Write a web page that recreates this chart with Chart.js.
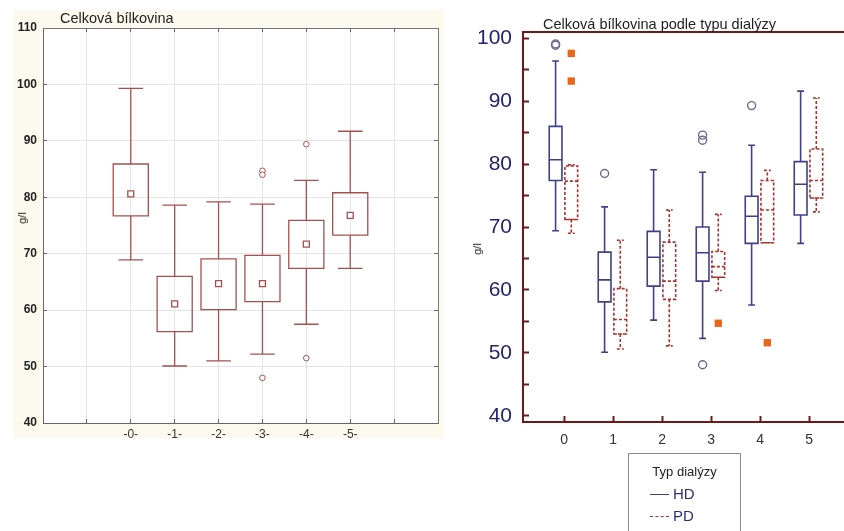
<!DOCTYPE html>
<html>
<head>
<meta charset="utf-8">
<script src="https://cdn.jsdelivr.net/npm/chart.js@4.4.1/dist/chart.umd.min.js"></script>
<style>
  body { margin: 0; width: 844px; height: 531px; background: #fff; position: relative; overflow: hidden; font-family: "Liberation Sans", Arial, sans-serif; }
  #leftWrap { position: absolute; left: 13px; top: 10px; width: 431px; height: 428px; background: #fcfaee; }
  #cLeft { position: absolute; left: 13px; top: 10px; }
  #cRight { position: absolute; left: 430px; top: 0; }
  .txt { position: absolute; white-space: nowrap; color: #222; }
  .rot { transform: translate(-50%, -50%) rotate(-90deg); font-size: 11px; }
  #legend { position: absolute; left: 628px; top: 453px; width: 113px; height: 100px; border: 1px solid #8a8a8a; box-sizing: border-box; }
  #legend .sw { position: absolute; left: 21px; width: 19px; height: 0; }
  #legend .lb { position: absolute; left: 44px; font-size: 15px; color: #2b2b7b; }
</style>
</head>
<body>
<div id="leftWrap"></div>
<canvas id="cLeft" width="431" height="428"></canvas>
<canvas id="cRight" width="414" height="455"></canvas>

<div class="txt" style="left:60px;top:10px;font-size:14.5px;">Celková bílkovina</div>
<div class="txt rot" style="left:22px;top:218px;">g/l</div>
<div class="txt" style="left:543px;top:16px;font-size:14.5px;">Celková bílkovina podle typu dialýzy</div>
<div class="txt rot" style="left:477px;top:249px;">g/l</div>

<div id="legend">
  <div class="txt" style="left:0;width:111px;text-align:center;top:10px;font-size:13px;">Typ dialýzy</div>
  <div class="sw" style="top:40px;border-top:1.5px solid #40408a;"></div>
  <div class="lb" style="top:31px;">HD</div>
  <div class="sw" style="top:62px;border-top:1.5px dashed #a8322d;"></div>
  <div class="lb" style="top:53px;">PD</div>
</div>

<script>
// ---- left chart: Celková bílkovina (mean, box, whiskers)
const leftCats = [0, 1, 2, 3, 4, 5];
const leftXLabels = ['-0-', '-1-', '-2-', '-3-', '-4-', '-5-'];
const leftXGrid = [-2, -1, 0, 1, 2, 3, 4, 5, 6, 7];
const leftYTicks = [40, 50, 60, 70, 80, 90, 100, 110];
const leftMean = [80.6, 61.1, 64.7, 64.7, 71.7, 76.8];
const leftBoxLow = [76.7, 56.2, 60.1, 61.5, 67.4, 73.3];
const leftBoxHigh = [85.9, 66.0, 69.1, 69.7, 75.9, 80.8];
const leftWhiskLow = [68.9, 50.1, 51.0, 52.2, 57.5, 67.4];
const leftWhiskHigh = [99.3, 78.6, 79.2, 78.8, 83.0, 91.7];
const leftOutCat = [3, 3, 3, 4, 4];
const leftOutVal = [84.7, 84.0, 48.0, 89.4, 51.5];

// ---- right chart: by dialysis type
const rightCats = [0, 1, 2, 3, 4, 5];
const rightXTicks = [0, 1, 2, 3, 4, 5];
const rightYTicks = [40, 45, 50, 55, 60, 65, 70, 75, 80, 85, 90, 95, 100];
const hdWhiskLow = [69.4, 50.1, 55.2, 52.3, 57.6, 67.4];
const hdQ1 = [77.4, 58.1, 60.6, 61.4, 67.4, 71.9];
const hdMedian = [80.7, 61.6, 65.2, 65.9, 71.7, 76.8];
const hdQ3 = [86.0, 66.0, 69.3, 70.0, 74.9, 80.4];
const hdWhiskHigh = [96.4, 73.2, 79.1, 78.7, 83.0, 91.6];
const hdOutCat = [0, 0, 1, 3, 3, 3, 4];
const hdOutVal = [98.9, 99.1, 78.5, 84.6, 83.8, 48.1, 89.3];
const pdWhiskLow = [69.0, 50.6, 51.1, 59.9, 67.5, 72.4];
const pdQ1 = [71.2, 53.0, 58.5, 62.0, 67.5, 74.6];
const pdMedian = [77.3, 55.3, 61.4, 63.7, 72.7, 77.4];
const pdQ3 = [79.7, 60.2, 67.6, 66.1, 77.4, 82.4];
const pdWhiskHigh = [79.9, 67.9, 72.7, 72.0, 79.0, 90.5];
const pdOutCat = [0, 0, 3, 4];
const pdOutVal = [97.6, 93.2, 54.7, 51.6];

// builds one polyline (gaps = null) with boxes, medians, whiskers and caps
function boxLines(cats, off, half, cap, lo, hi, mid, wLo, wHi) {
  const pts = [];
  const gap = c => pts.push({ x: c, y: null });
  cats.forEach((cat, i) => {
    const c = cat + off;
    pts.push({ x: c - half, y: lo[i] }, { x: c + half, y: lo[i] }, { x: c + half, y: hi[i] },
             { x: c - half, y: hi[i] }, { x: c - half, y: lo[i] }, { x: c + half, y: lo[i] });
    gap(c);
    if (mid) { pts.push({ x: c - half, y: mid[i] }, { x: c + half, y: mid[i] }); gap(c); }
    pts.push({ x: c, y: hi[i] }, { x: c, y: wHi[i] }); gap(c);
    pts.push({ x: c - cap, y: wHi[i] }, { x: c + cap, y: wHi[i] }); gap(c);
    pts.push({ x: c, y: lo[i] }, { x: c, y: wLo[i] }); gap(c);
    pts.push({ x: c - cap, y: wLo[i] }, { x: c + cap, y: wLo[i] }); gap(c);
  });
  return pts;
}

const pointsAt = (cats, vals, off) => vals.map((v, i) => ({ x: cats[i] + off, y: v }));
const setTicks = arr => s => { s.ticks = arr.map(v => ({ value: v })); };
// exact box sizes, and no extra label padding from the scales
const fixW = n => s => { s.width = n; s.paddingTop = 0; s.paddingBottom = 0; };
const fixH = n => s => { s.height = n; s.paddingLeft = 0; s.paddingRight = 0; };

Chart.defaults.font.family = '"Liberation Sans", Arial, sans-serif';

const leftColor = '#a5504c';
const leftPlotBg = {
  id: 'plotBg',
  beforeDraw(chart) {
    const { ctx, chartArea: a } = chart;
    ctx.save();
    ctx.fillStyle = '#fff';
    ctx.fillRect(a.left, a.top, a.right - a.left, a.bottom - a.top);
    ctx.restore();
  }
};

new Chart(document.getElementById('cLeft'), {
  type: 'scatter',
  data: {
    datasets: [
      {
        data: leftCats.map((c, i) => ({ x: c, y: leftMean[i] })),
        pointStyle: 'rect', pointRadius: 4.2, backgroundColor: '#fff',
        borderColor: leftColor, borderWidth: 1.3
      },
      {
        data: pointsAt(leftOutCat, leftOutVal, 0),
        pointStyle: 'circle', pointRadius: 2.8, backgroundColor: '#fff',
        borderColor: leftColor, borderWidth: 1
      },
      {
        data: boxLines(leftCats, 0, 0.4, 0.28, leftBoxLow, leftBoxHigh, null, leftWhiskLow, leftWhiskHigh),
        showLine: true, spanGaps: false, pointRadius: 0, borderColor: leftColor,
        borderWidth: 1.3, borderJoinStyle: 'miter'
      }
    ]
  },
  options: {
    responsive: false,
    animation: false,
    events: [],
    layout: { padding: 0, autoPadding: false },
    plugins: { legend: { display: false }, tooltip: { enabled: false } },
    scales: {
      x: {
        type: 'linear', position: 'bottom', min: -2, max: 7,
        afterBuildTicks: setTicks(leftXGrid), afterFit: fixH(15),
        grid: { color: '#e4e4e4', tickColor: '#666', tickLength: -4 },
        border: { color: '#666' },
        ticks: { padding: 8, color: '#333', font: { size: 12 }, autoSkip: false, maxRotation: 0,
                 callback: v => leftXLabels[leftCats.indexOf(v)] || '' }
      },
      x2: {
        type: 'linear', position: 'top', min: -2, max: 7,
        afterBuildTicks: setTicks(leftXGrid), afterFit: fixH(18),
        grid: { drawOnChartArea: false, tickColor: '#666', tickLength: -4 },
        border: { color: '#777' },
        ticks: { display: false }
      },
      y: {
        type: 'linear', position: 'left', min: 40, max: 110,
        afterBuildTicks: setTicks(leftYTicks), afterFit: fixW(30),
        grid: { color: '#e4e4e4', tickColor: '#666', tickLength: -4 },
        border: { color: '#666' },
        ticks: { padding: 10, color: '#222', font: { size: 12, weight: 'bold' } }
      },
      y2: {
        type: 'linear', position: 'right', min: 40, max: 110,
        afterBuildTicks: setTicks(leftYTicks), afterFit: fixW(6),
        grid: { drawOnChartArea: false, tickColor: '#666', tickLength: -4 },
        border: { color: '#777' },
        ticks: { display: false }
      }
    }
  },
  plugins: [leftPlotBg]
});

const hdColor = '#40408a';
const pdColor = '#a8322d';
const axisRed = '#6e1818';

new Chart(document.getElementById('cRight'), {
  type: 'scatter',
  data: {
    datasets: [
      {
        data: pointsAt(hdOutCat, hdOutVal, -0.175),
        pointStyle: 'circle', pointRadius: 4, backgroundColor: 'rgba(255,255,255,0)',
        borderColor: '#6a6a8c', borderWidth: 1.4
      },
      {
        data: pointsAt(pdOutCat, pdOutVal, 0.145),
        pointStyle: 'rect', pointRadius: 5.2, backgroundColor: '#e8661c',
        borderColor: '#e8661c', borderWidth: 0
      },
      {
        data: boxLines(rightCats, -0.175, 0.13, 0.07, hdQ1, hdQ3, hdMedian, hdWhiskLow, hdWhiskHigh),
        showLine: true, spanGaps: false, pointRadius: 0, borderColor: hdColor,
        borderWidth: 1.6, borderJoinStyle: 'miter'
      },
      {
        data: boxLines(rightCats, 0.145, 0.13, 0.07, pdQ1, pdQ3, pdMedian, pdWhiskLow, pdWhiskHigh),
        showLine: true, spanGaps: false, pointRadius: 0, borderColor: pdColor,
        borderWidth: 1.6, borderDash: [3, 2], borderJoinStyle: 'miter'
      }
    ]
  },
  options: {
    responsive: false,
    animation: false,
    events: [],
    layout: { padding: { top: 32, left: 0, right: 0, bottom: 0 }, autoPadding: false },
    plugins: { legend: { display: false }, tooltip: { enabled: false } },
    scales: {
      x: {
        type: 'linear', position: 'bottom', min: -0.84, max: 5.71,
        afterBuildTicks: setTicks(rightXTicks), afterFit: fixH(33),
        grid: { drawOnChartArea: false, tickColor: axisRed, tickWidth: 2, tickLength: -6 },
        border: { color: axisRed, width: 2 },
        ticks: { padding: 16, color: '#333', font: { size: 14 }, autoSkip: false, maxRotation: 0 }
      },
      x2: {
        type: 'linear', position: 'top', min: -0.84, max: 5.71,
        afterFit: fixH(0),
        grid: { display: false },
        border: { color: axisRed, width: 2 },
        ticks: { display: false }
      },
      y: {
        type: 'linear', position: 'left', min: 39, max: 101,
        afterBuildTicks: setTicks(rightYTicks), afterFit: fixW(93),
        grid: { drawOnChartArea: false, tickColor: axisRed, tickWidth: 2, tickLength: -6 },
        border: { color: axisRed, width: 2 },
        ticks: { padding: 17, color: '#24246e', font: { size: 21 }, autoSkip: false,
                 callback: v => (v % 10 === 0 ? v : '') }
      }
    }
  }
});
</script>
</body>
</html>
